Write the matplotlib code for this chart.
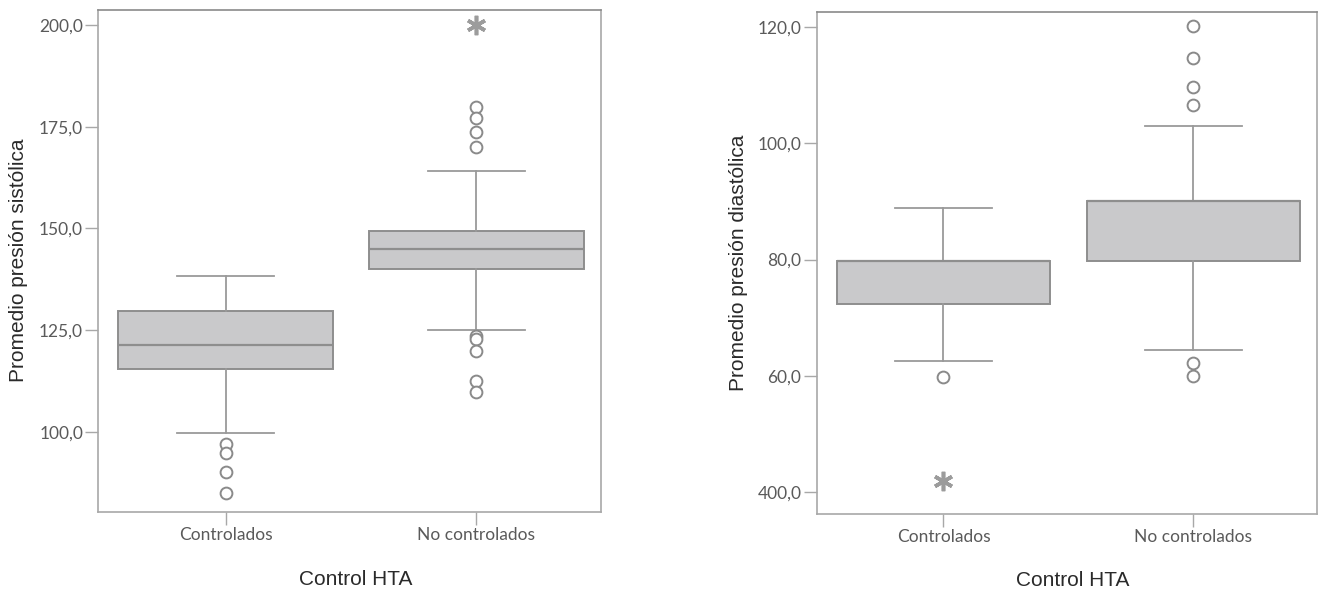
import matplotlib
matplotlib.use("Agg")
import matplotlib.pyplot as plt

# ---------------- data ----------------
categories = ["Controlados", "No controlados"]

# Systolic (left panel)
sys_q1 = [115.4, 139.9]
sys_med = [121.4, 144.8]
sys_q3 = [129.7, 149.4]
sys_whislo = [99.6, 125.1]
sys_whishi = [138.3, 164.1]
sys_outliers = [[97.0, 94.8, 90.2, 85.0],
                [179.8, 177.1, 173.6, 169.9, 123.5, 122.7, 119.9, 112.5, 109.8]]
sys_extremes = [[], [200.0]]
sys_ticks = [100, 125, 150, 175, 200]
sys_ticklabels = ["100,0", "125,0", "150,0", "175,0", "200,0"]

# Diastolic (right panel)
dia_q1 = [72.4, 79.7]
dia_med = [79.8, 90.1]
dia_q3 = [79.8, 90.1]
dia_whislo = [62.6, 64.4]
dia_whishi = [88.8, 103.0]
dia_outliers = [[59.8],
                [120.1, 114.6, 109.7, 106.6, 62.2, 59.9]]
dia_extremes = [[41.9], []]
dia_ticks = [40, 60, 80, 100, 120]
dia_ticklabels = ["400,0", "60,0", "80,0", "100,0", "120,0"]

xlabel = "Control HTA"
ylabel_sys = "Promedio presión sistólica"
ylabel_dia = "Promedio presión diastólica"

# ---------------- style ----------------
BOX_FILL = "#c9c9cb"
BOX_EDGE = "#8e8e8e"
LINE_C = "#9a9a9a"
FRAME_C = "#a8a8a8"
TICK_TXT = "#5a5a5a"
LABEL_TXT = "#2a2a2a"

fig = plt.figure(figsize=(13.19, 5.90), dpi=100)
ax1 = fig.add_axes([98.3 / 1319, (590 - 511.7) / 590, 502.4 / 1319, 502.0 / 590])
ax2 = fig.add_axes([816.7 / 1319, (590 - 514.0) / 590, 500.5 / 1319, 502.3 / 590])


def draw(ax, q1, med, q3, wlo, whi, outl, extr, ticks, ticklabels, ylim, ylabel,
         ylab_x, xlab_y):
    stats = []
    for i, cat in enumerate(categories):
        stats.append(dict(label=cat, q1=q1[i], med=med[i], q3=q3[i],
                          whislo=wlo[i], whishi=whi[i], fliers=outl[i]))
    positions = list(range(len(categories)))
    ax.bxp(stats, positions=positions, widths=0.855, patch_artist=True,
           showfliers=True, manage_ticks=False,
           boxprops=dict(facecolor=BOX_FILL, edgecolor=BOX_EDGE, linewidth=1.4),
           medianprops=dict(color=BOX_EDGE, linewidth=1.6),
           whiskerprops=dict(color=LINE_C, linewidth=1.3),
           capprops=dict(color=LINE_C, linewidth=1.3),
           capwidths=0.385,
           flierprops=dict(marker="o", markersize=8.5, markerfacecolor="white",
                           markeredgecolor="#8a8a8a", markeredgewidth=1.4,
                           linestyle="none"))
    for i, ex in enumerate(extr):
        if ex:
            ax.plot([positions[i]] * len(ex), ex, linestyle="none",
                    marker=(6, 2, 0), markersize=14, markeredgewidth=2.6,
                    color="#9c9c9c")
    ax.set_xlim(-0.507, 1.495)
    ax.set_ylim(*ylim)
    ax.set_xticks(positions)
    ax.set_xticklabels(categories, fontsize=12.5, color=TICK_TXT, family="Lato")
    ax.set_yticks(ticks)
    ax.set_yticklabels(ticklabels, fontsize=12.5, color=TICK_TXT, family="Lato")
    ax.tick_params(axis="both", direction="out", length=9.5, width=1.0,
                   color=FRAME_C, pad=1.5)
    for s in ax.spines.values():
        s.set_color(FRAME_C)
        s.set_linewidth(1.2)
    ax.spines["top"].set_color("#8a8a8a")
    ax.set_ylabel(ylabel, fontsize=15, color=LABEL_TXT, family="Liberation Sans")
    ax.set_xlabel(xlabel, fontsize=15, color=LABEL_TXT, family="Liberation Sans")
    ax.yaxis.set_label_coords(ylab_x, 0.5)
    ax.xaxis.set_label_coords(0.512, xlab_y)


draw(ax1, sys_q1, sys_med, sys_q3, sys_whislo, sys_whishi, sys_outliers,
     sys_extremes, sys_ticks, sys_ticklabels, (80.33, 203.76), ylabel_sys,
     -0.14, -0.116)
draw(ax2, dia_q1, dia_med, dia_q3, dia_whislo, dia_whishi, dia_outliers,
     dia_extremes, dia_ticks, dia_ticklabels, (36.27, 122.58), ylabel_dia,
     -0.137, -0.113)

fig.savefig("out.png", dpi=100, facecolor="white")
